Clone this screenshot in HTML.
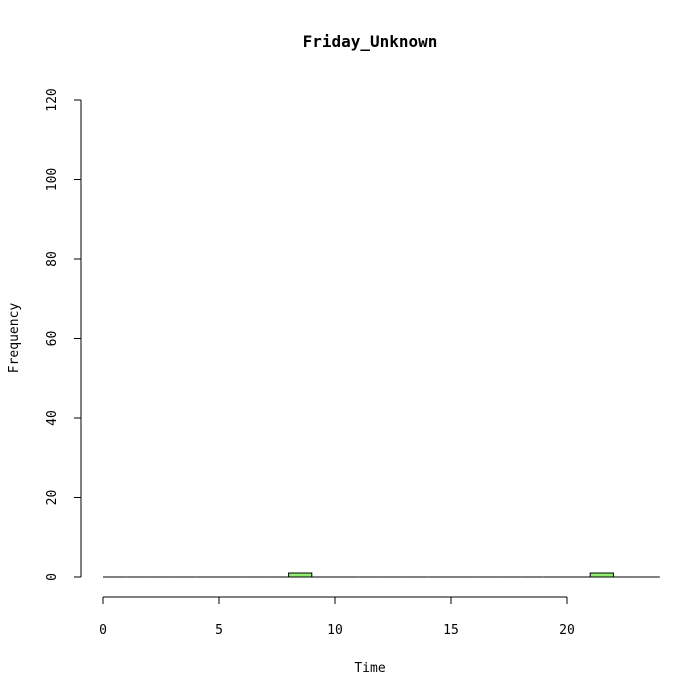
<!DOCTYPE html>
<html><head><meta charset="utf-8"><style>body{margin:0;background:#fff}svg{display:block}text{font-family:"DejaVu Sans Mono","Liberation Mono",monospace;font-size:13px;fill:#000}</style></head>
<body>
<svg width="699" height="699" id="c">
<text x="370" y="47" text-anchor="middle" style="font-size:16px;font-weight:bold">Friday_Unknown</text>
<text x="370" y="672" text-anchor="middle">Time</text>
<text transform="translate(18,338) rotate(-90)" text-anchor="middle">Frequency</text>
<g id="bars"></g>
<g id="xa"></g>
<g id="ya"></g>
</svg>
<script>
const binStarts=[0,1,2,3,4,5,6,7,8,9,10,11,12,13,14,15,16,17,18,19,20,21,22,23];
const counts=[0,0,0,0,0,0,0,0,1,0,0,0,0,0,0,0,0,0,0,0,0,1,0,0];
const xTicks=[0,5,10,15,20];
const yTicks=[0,20,40,60,80,100,120];
const ns="http://www.w3.org/2000/svg";
const X=v=>103+v*23.2, Y=v=>577-v*3.975;
function mk(t,a,p){const e=document.createElementNS(ns,t);for(const k in a)e.setAttribute(k,a[k]);p.appendChild(e);return e;}
const bars=document.getElementById('bars');
binStarts.forEach((b,i)=>{const x0=X(b),x1=X(b+1),y0=Y(0),y1=Y(counts[i]);
const r=mk('path',{d:`M${x0},${y0}L${x0},${y1}L${x1},${y1}L${x1},${y0}Z`,fill:'#90ee70',stroke:'#000','stroke-width':1},bars);

});
const xa=document.getElementById('xa');
mk('line',{x1:X(xTicks[0]),x2:X(xTicks[xTicks.length-1]),y1:597,y2:597,stroke:'#000'},xa);
xTicks.forEach(t=>{mk('line',{x1:X(t),x2:X(t),y1:597,y2:604,stroke:'#000'},xa);
const tx=mk('text',{x:X(t),y:634,'text-anchor':'middle'},xa);tx.textContent=t;

});
const ya=document.getElementById('ya');
mk('line',{x1:81,x2:81,y1:Y(yTicks[0]),y2:Y(yTicks[yTicks.length-1]),stroke:'#000'},ya);
yTicks.forEach(t=>{mk('line',{x1:74,x2:81,y1:Y(t),y2:Y(t),stroke:'#000'},ya);
const tx=mk('text',{transform:`translate(56,${Y(t)}) rotate(-90)`,'text-anchor':'middle'},ya);tx.textContent=t;

});
</script>
</body></html>
